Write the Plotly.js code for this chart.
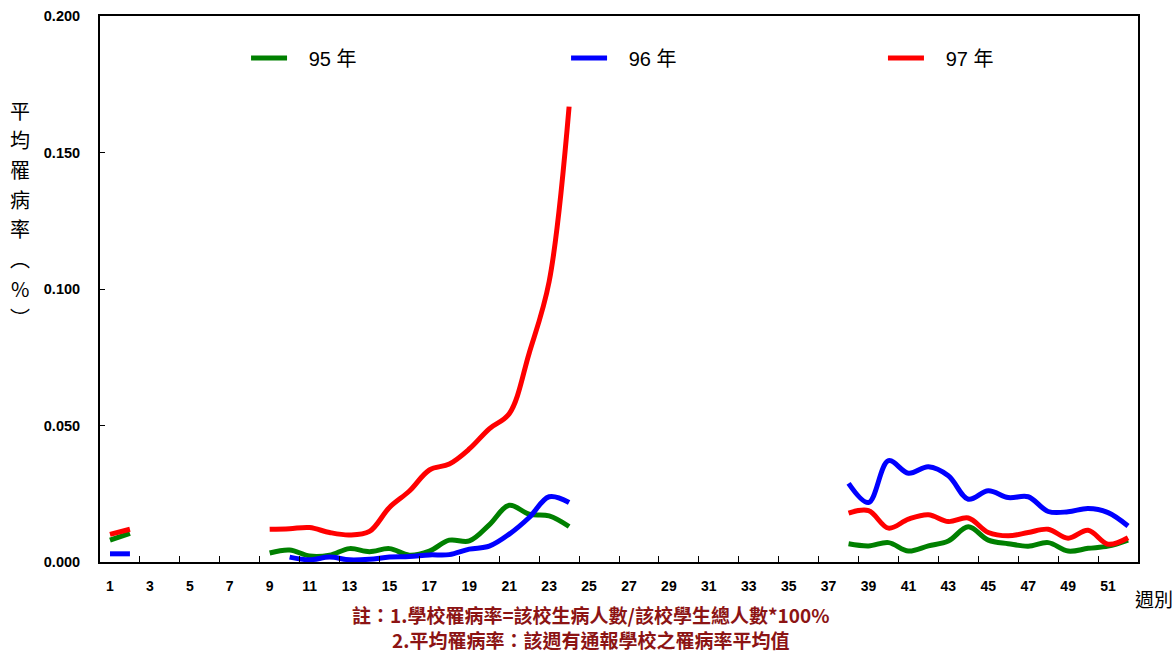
<!DOCTYPE html>
<html>
<head>
<meta charset="utf-8">
<script src="https://cdn.plot.ly/plotly-3.0.1.min.js"></script>
<style>html,body{margin:0;padding:0;background:#fff;}#chart{width:1175px;height:652px;}</style>
</head>
<body>
<div id="chart"></div>
<script>
// Weeks 1..52
const weeks = Array.from({length: 52}, (_, i) => i + 1);

// 95年 (green)
const y95 = [0.0080, 0.0105, null, null, null, null, null, null,
  0.0033, 0.0044, 0.0022, 0.0025, 0.0049, 0.0038, 0.0049, 0.0025, 0.0040, 0.0080, 0.0077, 0.0136,
  0.0208, 0.0175, 0.0169, 0.0130,
  null, null, null, null, null, null, null, null, null, null, null, null, null,
  0.0067, 0.0059, 0.0071, 0.0040, 0.0059, 0.0077, 0.0129, 0.0080, 0.0067, 0.0058, 0.0071, 0.0040,
  0.0050, 0.0058, 0.0080];

// 96年 (blue)
const y96 = [0.0030, 0.0030, null, null, null, null, null, null,
  null, 0.0018, 0.0008, 0.0018, 0.0008, 0.0010, 0.0018, 0.0020, 0.0026, 0.0027, 0.0047, 0.0058,
  0.0102, 0.0163, 0.0239, 0.0218,
  null, null, null, null, null, null, null, null, null, null, null, null, null,
  0.0288, 0.0218, 0.0371, 0.0325, 0.0349, 0.0316, 0.0230, 0.0261, 0.0236, 0.0239, 0.0185, 0.0184,
  0.0196, 0.0181, 0.0132];

// 97年 (red)
const y97 = [0.0101, 0.0120, null, null, null, null, null, null,
  0.0120, 0.0122, 0.0126, 0.0108, 0.0099, 0.0112, 0.0200, 0.0260, 0.0337, 0.0359, 0.0414, 0.0488,
  0.0543, 0.0765, 0.1027, 0.1668,
  null, null, null, null, null, null, null, null, null, null, null, null, null,
  0.0179, 0.0188, 0.0124, 0.0157, 0.0173, 0.0148, 0.0161, 0.0108, 0.0096, 0.0108, 0.0120, 0.0087,
  0.0116, 0.0065, 0.0089];

const seriesNames = ['95 年', '96 年', '97 年'];
const seriesColors = ['#008000', '#0000FF', '#FF0000'];
const seriesData = [y95, y96, y97];
const legendIds = ['legend', 'legend2', 'legend3'];
const legendX = [0.1407, 0.449, 0.7543];

const xTickVals = weeks.filter(w => w % 2 === 1);
const xTickText = xTickVals.map(String);
const xMinorVals = weeks.filter(w => w % 2 === 0).map(w => w + 0.5);
const yTickVals = [0, 0.05, 0.10, 0.15, 0.20];
const yTickText = ['0.000', '0.050', '0.100', '0.150', '0.200'];

const yTitleChars = ['平', '均', '罹', '病', '率', '︵', '%', '︶'];
const note1 = '註：1.學校罹病率=該校生病人數/該校學生總人數*100%';
const note2 = '2.平均罹病率：該週有通報學校之罹病率平均值';
const xTitle = '週別';

const pad = '\u00a0\u00a0\u00a0';
const traces = seriesData.map((d, i) => ({
  x: weeks, y: d, type: 'scatter', mode: 'lines', name: pad + seriesNames[i],
  connectgaps: false, legend: legendIds[i],
  line: {color: seriesColors[i], width: 5, shape: 'spline', smoothing: 1}
}));

const baseFont = 'Liberation Sans, Arial, Noto Sans CJK TC, sans-serif';
const cjkFont = 'Noto Sans CJK TC, Liberation Sans, sans-serif';

const annotations = [];
yTitleChars.forEach((c, i) => {
  annotations.push({
    text: c, xref: 'paper', yref: 'paper', x: -0.077, y: 1, yshift: -94 - i * 29.7,
    xanchor: 'center', yanchor: 'middle', showarrow: false,
    font: {family: cjkFont, size: 20, color: '#000'}
  });
});
annotations.push({
  text: xTitle, xref: 'paper', yref: 'paper', x: 1.0, y: 0, xshift: 16, yshift: -36,
  xanchor: 'center', yanchor: 'middle', showarrow: false,
  font: {family: cjkFont, size: 19, color: '#000'}
});
annotations.push({
  text: note1 + '<br>' + note2, xref: 'paper', yref: 'paper', x: 0.4735, y: 0, yshift: -65,
  xanchor: 'center', yanchor: 'middle', align: 'center', showarrow: false, borderpad: 0,
  font: {family: cjkFont, size: 19, color: '#8C1414', weight: 'bold'}
});

const layout = {
  width: 1175, height: 652,
  margin: {l: 100, r: 37, t: 16, b: 90},
  paper_bgcolor: '#fff', plot_bgcolor: '#fff',
  showlegend: true,
  xaxis: {
    range: [0.5, 52.5], showgrid: false, zeroline: false,
    showline: true, linecolor: '#000', linewidth: 2, mirror: true,
    tickmode: 'array', tickvals: xTickVals, ticktext: xTickText, ticks: '',
    ticklabelstandoff: 10,
    tickfont: {family: baseFont, size: 14, color: '#000', weight: 'bold'},
    minor: {tickmode: 'array', tickvals: xMinorVals, ticks: 'inside', ticklen: 6, tickwidth: 1, tickcolor: '#000', showgrid: false}
  },
  yaxis: {
    range: [0, 0.2], showgrid: false, zeroline: false,
    showline: true, linecolor: '#000', linewidth: 2, mirror: true,
    tickmode: 'array', tickvals: yTickVals, ticktext: yTickText,
    ticks: 'inside', ticklen: 5, tickwidth: 1, tickcolor: '#000',
    ticklabelstandoff: 15,
    tickfont: {family: baseFont, size: 14.5, color: '#000', weight: 'bold'}
  },
  annotations: annotations
};

legendIds.forEach((id, i) => {
  layout[id] = {
    orientation: 'h', x: legendX[i], xanchor: 'left', y: 0.923, yanchor: 'middle',
    itemwidth: 36,
    font: {family: baseFont, size: 20, color: '#000'}, bgcolor: 'rgba(0,0,0,0)'
  };
});

Plotly.newPlot('chart', traces, layout, {displayModeBar: false, staticPlot: true});
</script>
</body>
</html>
